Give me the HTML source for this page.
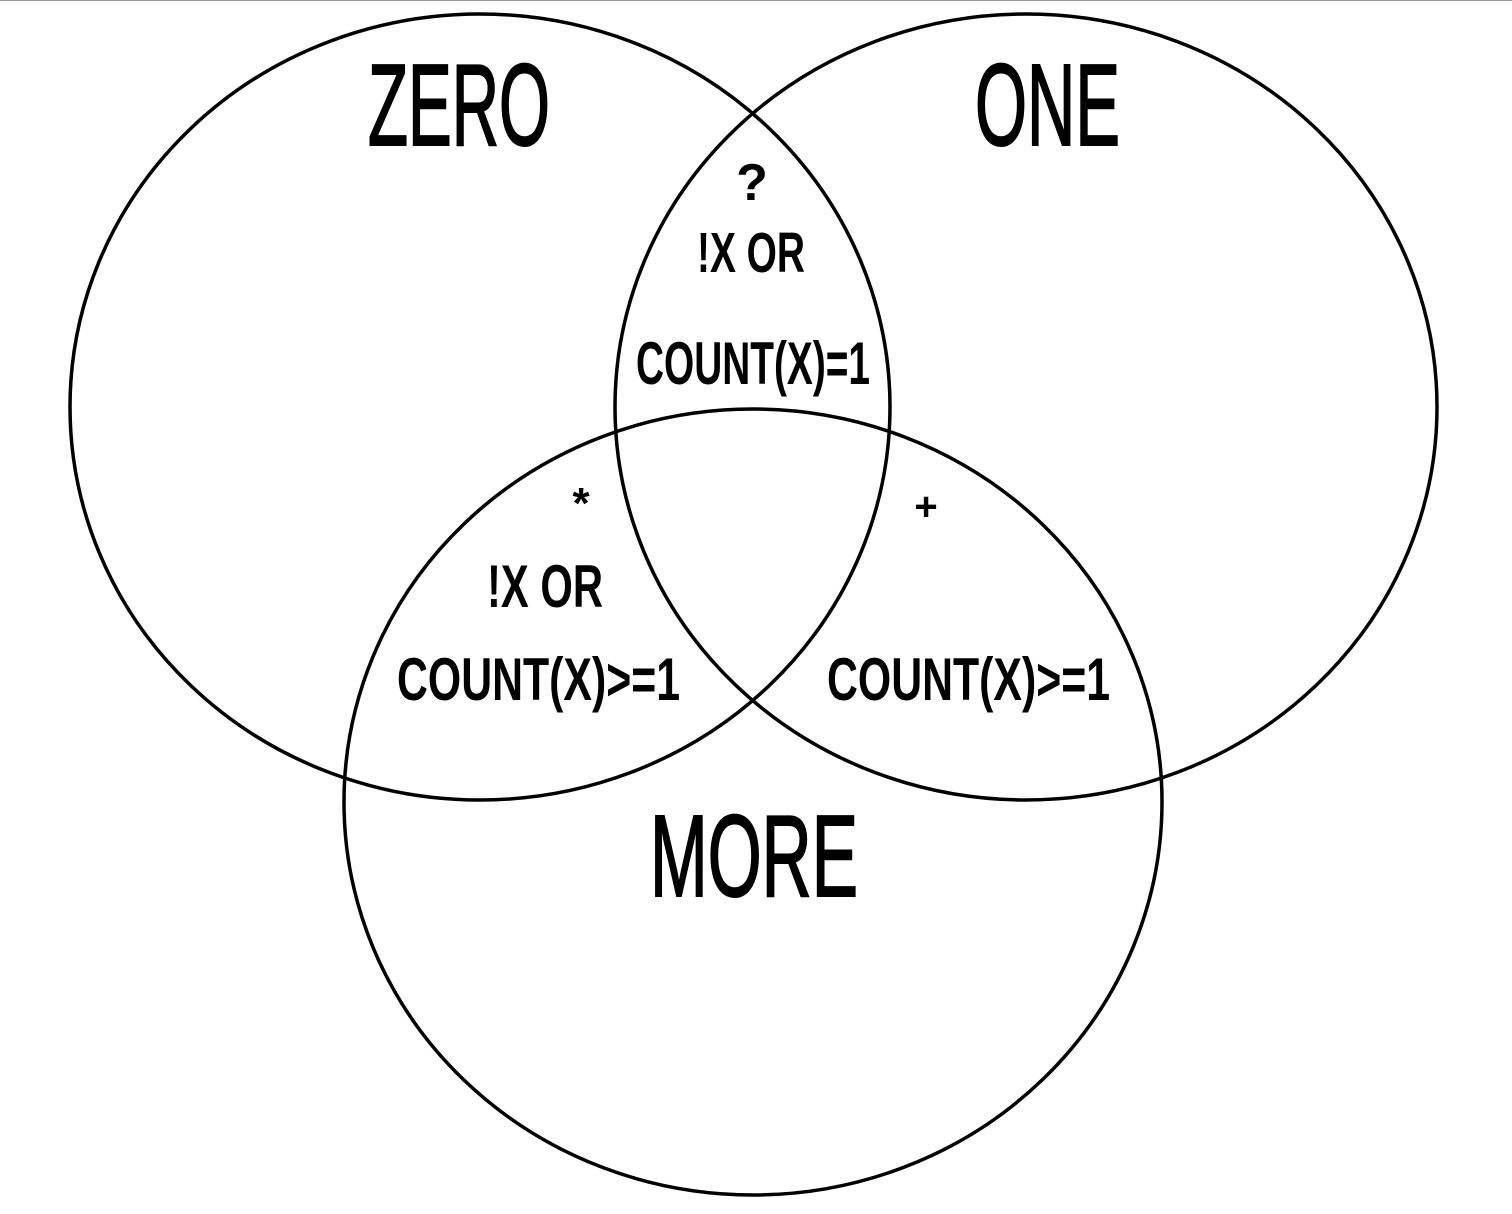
<!DOCTYPE html>
<html><head><meta charset="utf-8"><style>
html,body{margin:0;padding:0;background:#fff;}
svg{display:block;}
text{font-family:"Liberation Sans",sans-serif;fill:#000;}
.b{stroke:#000;stroke-width:2;}
.s{font-weight:bold;}
</style></head><body>
<svg width="1512" height="1214" viewBox="0 0 1512 1214" xmlns="http://www.w3.org/2000/svg">
<rect width="1512" height="1214" fill="#fff"/>
<line x1="0" y1="0.5" x2="1512" y2="0.5" stroke="#999" stroke-width="1"/>
<g fill="none" stroke="#000" stroke-width="3.5">
<ellipse cx="480" cy="407" rx="410" ry="393"/>
<ellipse cx="1026" cy="407" rx="411" ry="393"/>
<ellipse cx="753" cy="802" rx="409" ry="393"/>
</g>
<text class="b" x="368" y="145" font-size="116" textLength="182" lengthAdjust="spacingAndGlyphs">ZERO</text>
<text class="b" x="975" y="145" font-size="116" textLength="145" lengthAdjust="spacingAndGlyphs">ONE</text>
<text class="b" x="650" y="896" font-size="116" textLength="208" lengthAdjust="spacingAndGlyphs">MORE</text>
<text class="s" x="752" y="200" font-size="52" text-anchor="middle">?</text>
<text class="s" x="697" y="272" font-size="57" textLength="108" lengthAdjust="spacingAndGlyphs">!X OR</text>
<text class="s" x="636" y="384" font-size="60" textLength="234" lengthAdjust="spacingAndGlyphs">COUNT(X)=1</text>
<text class="s" x="581" y="518" font-size="44" text-anchor="middle">*</text>
<text class="s" x="487" y="607" font-size="60" textLength="116" lengthAdjust="spacingAndGlyphs">!X OR</text>
<text class="s" x="397" y="700" font-size="60" textLength="283" lengthAdjust="spacingAndGlyphs">COUNT(X)&gt;=1</text>
<text class="s" x="926" y="520" font-size="40" text-anchor="middle">+</text>
<text class="s" x="827" y="700" font-size="60" textLength="283" lengthAdjust="spacingAndGlyphs">COUNT(X)&gt;=1</text>
</svg>
</body></html>
